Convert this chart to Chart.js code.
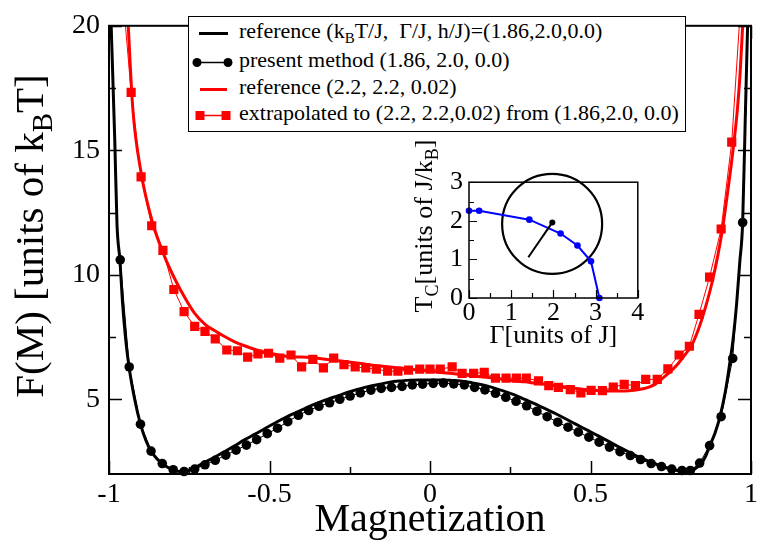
<!DOCTYPE html>
<html>
<head>
<meta charset="utf-8">
<script src="https://cdn.jsdelivr.net/npm/chart.js@4/dist/chart.umd.min.js"></script>
<style>
html,body{margin:0;padding:0;background:#fff;}
#wrap{position:relative;width:762px;height:544px;overflow:hidden;}
#main{position:absolute;left:0;top:0;}
#inset{position:absolute;left:400px;top:130px;}
#ov{position:absolute;left:0;top:0;pointer-events:none;}
</style>
</head>
<body>
<div id="wrap">
<canvas id="main" width="762" height="544"></canvas>
<canvas id="inset" width="290" height="230"></canvas>
<svg id="ov" width="762" height="544" font-family="Liberation Serif, Times New Roman, serif">
  <rect x="188.5" y="16.5" width="497" height="115" fill="#fff" stroke="#000" stroke-width="1"/>
  <line x1="199" y1="33.5" x2="228" y2="33.5" stroke="#000" stroke-width="3"/>
  <line x1="197" y1="62.5" x2="228" y2="62.5" stroke="#000" stroke-width="1.5"/>
  <circle cx="197" cy="62.5" r="4.5" fill="#000"/>
  <circle cx="228" cy="62.5" r="4.5" fill="#000"/>
  <line x1="200" y1="89.5" x2="227" y2="89.5" stroke="#ff0000" stroke-width="3"/>
  <line x1="200" y1="115.5" x2="226" y2="115.5" stroke="#ff0000" stroke-width="1.5"/>
  <rect x="195.5" y="111" width="9" height="9" fill="#ff0000"/>
  <rect x="221.5" y="111" width="9" height="9" fill="#ff0000"/>
  <text x="239" y="38" font-size="22" style="white-space:pre">reference (k<tspan font-size="15" dy="5">B</tspan><tspan dy="-5">T/J,  Γ/J, h/J)=(1.86,2.0,0.0)</tspan></text>
  <text x="239" y="67" font-size="22" style="white-space:pre">present method (1.86, 2.0, 0.0)</text>
  <text x="239" y="94" font-size="22" style="white-space:pre">reference (2.2, 2.2, 0.02)</text>
  <text x="239" y="120" font-size="22" style="white-space:pre">extrapolated to (2.2, 2.2,0.02) from (1.86,2.0, 0.0)</text>
  <text transform="translate(43,236) rotate(-90)" text-anchor="middle" font-size="41">F(M) [units of k<tspan font-size="29" dy="9">B</tspan><tspan dy="-9">T]</tspan></text>
  <text transform="translate(432,226) rotate(-90)" text-anchor="middle" font-size="26">T<tspan font-size="18" dy="6">C</tspan><tspan dy="-6">[units of J/k</tspan><tspan font-size="18" dy="6">B</tspan><tspan dy="-6">]</tspan></text>
</svg>
</div>
<script>
// ---------------- data ----------------
// reference (kBT/J, Γ/J, h/J) = (1.86, 2.0, 0.0)  -- thick black line
const refBlackM = [-0.994,-0.982,-0.975,-0.966,-0.958,-0.948,-0.937,-0.92,-0.902,-0.885,-0.869,-0.85,-0.834,-0.815,-0.798,-0.78,-0.766,-0.75,-0.733,-0.70,-0.67,-0.643,-0.61,-0.578,-0.545,-0.514,-0.48,-0.449,-0.415,-0.384,-0.35,-0.32,-0.285,-0.255,-0.22,-0.19,-0.155,-0.125,-0.09,-0.061,-0.03,0.004,0.035,0.069,0.10,0.133,0.165,0.198,0.23,0.263,0.295,0.327,0.36,0.392,0.425,0.457,0.49,0.521,0.555,0.586,0.62,0.651,0.685,0.715,0.75,0.78,0.806,0.825,0.845,0.86,0.871,0.888,0.903,0.92,0.935,0.945,0.955,0.965,0.974,0.982,0.99];
const refBlackF = [20.3,15.4,12.0,10.6,8.9,7.4,6.25,5.0,4.0,3.35,2.92,2.6,2.42,2.25,2.16,2.1,2.1,2.15,2.25,2.48,2.68,2.88,3.12,3.37,3.6,3.83,4.07,4.28,4.48,4.67,4.85,5.0,5.15,5.29,5.42,5.52,5.61,5.69,5.74,5.77,5.78,5.78,5.78,5.76,5.73,5.66,5.58,5.46,5.33,5.18,5.0,4.82,4.62,4.42,4.2,3.98,3.76,3.55,3.32,3.1,2.88,2.68,2.5,2.34,2.2,2.12,2.1,2.2,2.42,2.75,3.12,3.65,4.28,5.3,6.55,7.5,8.8,10.5,12.1,16.2,20.3];

// present method (1.86, 2.0, 0.0) -- black circles
const presM = [-0.965,-0.937,-0.902,-0.869,-0.834,-0.800,-0.766,-0.733,-0.701,-0.669,-0.636,-0.604,-0.572,-0.540,-0.507,-0.475,-0.443,-0.410,-0.378,-0.346,-0.313,-0.281,-0.249,-0.217,-0.184,-0.152,-0.120,-0.087,-0.055,-0.023,0.010,0.042,0.074,0.107,0.139,0.171,0.204,0.236,0.268,0.301,0.333,0.365,0.398,0.430,0.462,0.495,0.527,0.559,0.592,0.624,0.656,0.689,0.721,0.753,0.785,0.811,0.840,0.871,0.907,0.943,0.974];
const presF = [10.6,6.3,4.0,2.92,2.42,2.17,2.10,2.20,2.37,2.55,2.76,2.96,3.16,3.38,3.62,3.84,4.10,4.36,4.55,4.72,4.86,5.00,5.13,5.26,5.37,5.44,5.48,5.52,5.58,5.61,5.64,5.65,5.62,5.58,5.48,5.38,5.24,5.08,4.92,4.74,4.52,4.30,4.08,3.88,3.68,3.48,3.28,3.08,2.90,2.74,2.58,2.42,2.30,2.20,2.14,2.14,2.44,3.14,4.30,6.64,12.1];

// reference (2.2, 2.2, 0.02) -- thick red line
const refRedM = [-0.942,-0.926,-0.90,-0.865,-0.829,-0.793,-0.76,-0.733,-0.70,-0.67,-0.643,-0.61,-0.578,-0.545,-0.514,-0.48,-0.449,-0.415,-0.384,-0.35,-0.32,-0.285,-0.255,-0.22,-0.19,-0.155,-0.125,-0.09,-0.061,-0.03,0.004,0.035,0.069,0.10,0.133,0.165,0.198,0.23,0.263,0.295,0.327,0.36,0.392,0.425,0.457,0.49,0.521,0.555,0.586,0.62,0.651,0.68,0.702,0.728,0.752,0.774,0.795,0.815,0.836,0.856,0.877,0.897,0.912,0.927,0.943,0.958,0.967,0.976];
const refRedF = [20.5,16.7,14.1,12.13,10.8,9.78,9.0,8.45,8.0,7.75,7.54,7.32,7.15,7.0,6.89,6.8,6.73,6.7,6.69,6.65,6.6,6.55,6.5,6.45,6.39,6.34,6.3,6.25,6.21,6.17,6.13,6.08,6.04,5.99,5.94,5.9,5.85,5.8,5.74,5.7,5.65,5.6,5.55,5.49,5.43,5.38,5.35,5.33,5.33,5.34,5.39,5.48,5.61,5.88,6.15,6.45,6.8,7.16,7.8,8.6,9.6,10.8,11.9,13.3,14.9,16.7,18.3,20.5];

// extrapolated to (2.2, 2.2, 0.02) from (1.86, 2.0, 0.0) -- red squares
const extM = [-0.952,-0.931,-0.900,-0.867,-0.832,-0.798,-0.766,-0.733,-0.701,-0.669,-0.633,-0.600,-0.568,-0.536,-0.503,-0.468,-0.433,-0.400,-0.365,-0.332,-0.300,-0.268,-0.233,-0.200,-0.167,-0.132,-0.100,-0.067,-0.032,0.000,0.032,0.069,0.100,0.136,0.169,0.204,0.237,0.269,0.300,0.338,0.370,0.400,0.437,0.470,0.502,0.537,0.571,0.605,0.640,0.672,0.708,0.741,0.776,0.808,0.838,0.871,0.907,0.940,0.966];
const extF = [20.5,17.33,13.93,11.97,10.98,9.41,8.52,7.93,7.73,7.43,6.98,6.95,6.69,6.82,6.85,6.65,6.78,6.30,6.60,6.26,6.65,6.39,6.30,6.26,6.21,6.13,6.13,6.17,6.21,6.21,6.21,6.30,6.04,6.04,6.08,5.85,5.85,5.85,5.85,5.74,5.55,5.48,5.39,5.26,5.36,5.35,5.49,5.60,5.55,5.80,5.80,6.22,6.78,7.13,8.41,9.91,11.84,15.33,20.5];

// axis tick labels
const xTickVals = [-1,-0.5,0,0.5,1];
const xTickText = ['-1','-0.5','0','0.5','1'];
const yTickVals = [5,10,15,20];
const yTickText = ['5','10','15','20'];

// inset: critical temperature vs transverse field
const insetGamma = [0,0.24,1.43,2.17,2.57,2.89,3.09];
const insetTc = [2.26,2.26,2.03,1.67,1.36,0.95,0];
const circleGamma = [1.97];
const circleTc = [1.92];
const pointerGamma = [1.974,1.406];
const pointerTc = [1.958,1.056];
const insetXTickVals = [0,1,2,3,4];
const insetYTickVals = [0,1,2,3];

// ---------------- helpers ----------------
const FONT = "'Liberation Serif','Times New Roman',serif";
Chart.defaults.font.family = FONT;
Chart.defaults.color = '#000';
function zip(xs, ys){ return xs.map((x,i)=>({x:x, y:ys[i]})); }
function isMult(v, s){ return Math.abs(v/s - Math.round(v/s)) < 1e-6; }
function labelFor(vals, texts){
  return function(v){
    for (let i=0;i<vals.length;i++) if (Math.abs(vals[i]-v)<1e-6) return texts[i];
    return '';
  };
}

const frameTicks = {
  id:'frameTicks',
  afterDatasetsDraw(chart, args, o){
    const ctx=chart.ctx, a=chart.chartArea, xs=chart.scales.x, ys=chart.scales.y;
    ctx.save();
    ctx.strokeStyle='#000';
    ctx.lineWidth=o.tickWidth;
    ctx.beginPath();
    xs.ticks.forEach(t=>{
      if(!isMult(t.value,o.xMinor)) return;
      const L = isMult(t.value,o.xMajor)?o.major:o.minor;
      const p = Math.round(xs.getPixelForValue(t.value))+0.5;
      ctx.moveTo(p,a.bottom); ctx.lineTo(p,a.bottom-L);
      if(o.mirror){ ctx.moveTo(p,a.top); ctx.lineTo(p,a.top+L); }
    });
    ys.ticks.forEach(t=>{
      if(!isMult(t.value,o.yMinor)) return;
      const L = isMult(t.value,o.yMajor)?o.major:o.minor;
      const p = Math.round(ys.getPixelForValue(t.value))+0.5;
      ctx.moveTo(a.left,p); ctx.lineTo(a.left+L,p);
      if(o.mirror){ ctx.moveTo(a.right,p); ctx.lineTo(a.right-L,p); }
    });
    ctx.stroke();
    ctx.lineWidth=o.frameWidth;
    ctx.strokeRect(a.left,a.top,a.right-a.left,a.bottom-a.top);
    ctx.restore();
  }
};

// ---------------- main chart ----------------
new Chart(document.getElementById('main'), {
  type:'line',
  data:{
    datasets:[
      { label:'extrapolated to (2.2, 2.2,0.02) from (1.86,2.0, 0.0)', data:zip(extM,extF),
        borderColor:'#ff0000', backgroundColor:'#ff0000', borderWidth:1,
        pointStyle:'rect', pointRadius:(c)=> (c.raw && c.raw.y>20) ? 0 : 6.5,
        pointBorderWidth:0, order:0 },
      { label:'reference (2.2, 2.2, 0.02)', data:zip(refRedM,refRedF),
        borderColor:'#ff0000', borderWidth:3, pointRadius:0,
        cubicInterpolationMode:'monotone', order:1 },
      { label:'present method (1.86, 2.0, 0.0)', data:zip(presM,presF),
        borderColor:'#000', backgroundColor:'#000', borderWidth:1,
        pointStyle:'circle', pointRadius:4.8, pointBorderWidth:0, clip:false, order:2 },
      { label:'reference (kBT/J, Γ/J, h/J)=(1.86,2.0,0.0)', data:zip(refBlackM,refBlackF),
        borderColor:'#000', borderWidth:3, pointRadius:0,
        cubicInterpolationMode:'monotone', order:3 }
    ]
  },
  options:{
    responsive:false, animation:false,
    layout:{padding:{top:16,right:2,left:0,bottom:0}},
    plugins:{
      legend:{display:false}, tooltip:{enabled:false},
      frameTicks:{xMajor:0.5,xMinor:0.25,yMajor:5,yMinor:2.5,major:13,minor:7,tickWidth:1.5,frameWidth:2,mirror:true}
    },
    scales:{
      x:{ type:'linear', min:-1, max:1,
          grid:{display:false, drawTicks:false}, border:{display:false},
          ticks:{stepSize:0.25, autoSkip:false, maxRotation:0, padding:4,
                 font:{size:28}, color:'#000', callback:labelFor(xTickVals,xTickText)},
          title:{display:true, text:'Magnetization', font:{size:40}, color:'#000', padding:{top:0,bottom:0}},
          afterFit(s){ s.height = 70; } },
      y:{ type:'linear', min:2, max:20,
          grid:{display:false, drawTicks:false}, border:{display:false},
          ticks:{stepSize:2.5, autoSkip:false, padding:9,
                 font:{size:28}, color:'#000', callback:labelFor(yTickVals,yTickText)},
          afterFit(s){ s.width = 109; } }
    }
  },
  plugins:[frameTicks]
});

// ---------------- inset chart ----------------
new Chart(document.getElementById('inset'), {
  type:'line',
  data:{
    datasets:[
      { label:'pointer', data:zip(pointerGamma,pointerTc), borderColor:'#000', backgroundColor:'#000',
        borderWidth:2, pointRadius:(c)=> c.dataIndex===0 ? 3 : 0, pointBorderWidth:0, order:0 },
      { label:'Tc', data:zip(insetGamma,insetTc), borderColor:'#0000ff', backgroundColor:'#0000ff',
        borderWidth:2, pointRadius:3.3, pointBorderWidth:0, clip:false, order:1 },
      { label:'circle', data:zip(circleGamma,circleTc), showLine:false, borderColor:'#000',
        backgroundColor:'rgba(0,0,0,0)', pointRadius:50, pointBorderWidth:2.2, clip:false, order:2 }
    ]
  },
  options:{
    responsive:false, animation:false,
    layout:{padding:{top:24,right:21,left:0,bottom:0}},
    plugins:{
      legend:{display:false}, tooltip:{enabled:false},
      frameTicks:{xMajor:1,xMinor:0.5,yMajor:1,yMinor:0.5,major:8,minor:5,tickWidth:1.2,frameWidth:1.5,mirror:false}
    },
    scales:{
      x:{ type:'linear', min:0, max:4,
          grid:{display:false, drawTicks:false}, border:{display:false},
          ticks:{stepSize:0.5, autoSkip:false, maxRotation:0, padding:0,
                 font:{size:26}, color:'#000', callback:labelFor(insetXTickVals,['0','1','2','3','4'])},
          title:{display:true, text:'Γ[units of J]', font:{size:26}, color:'#000', padding:{top:0,bottom:8}},
          afterFit(s){ s.height = 62; } },
      y:{ type:'linear', min:0, max:3,
          grid:{display:false, drawTicks:false}, border:{display:false},
          ticks:{stepSize:0.5, autoSkip:false, padding:6,
                 font:{size:26}, color:'#000', callback:labelFor(insetYTickVals,['0','1','2','3'])},
          afterFit(s){ s.width = 69; } }
    }
  },
  plugins:[frameTicks]
});
</script>
</body>
</html>
